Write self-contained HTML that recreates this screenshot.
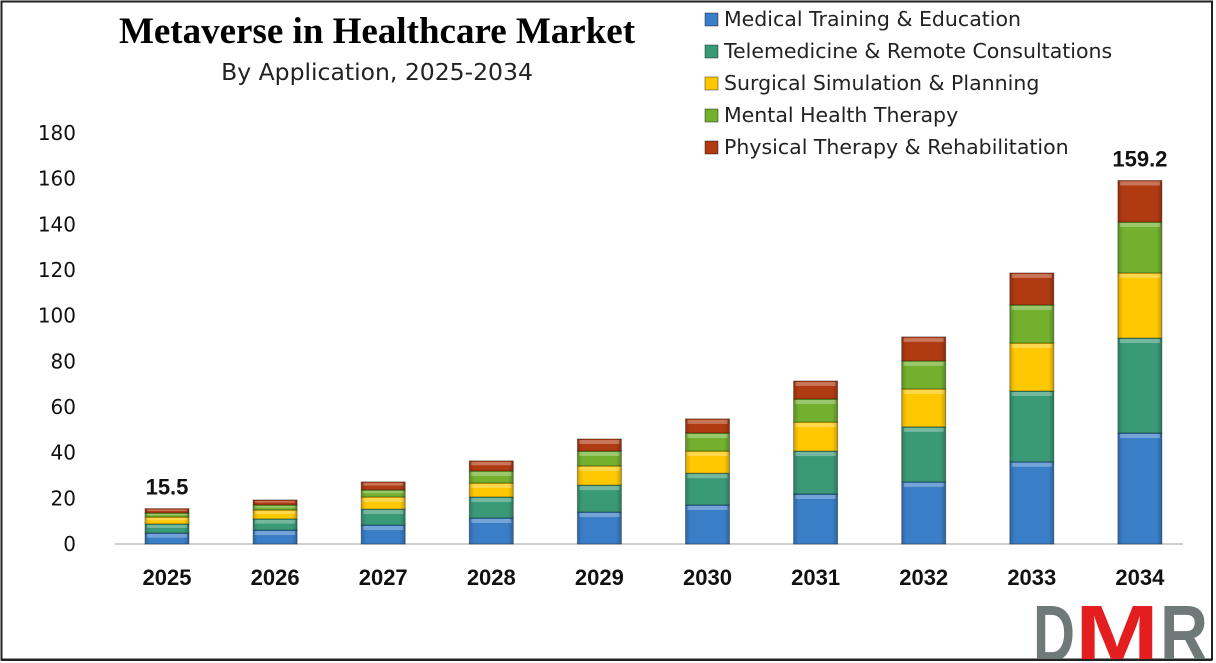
<!DOCTYPE html>
<html><head><meta charset="utf-8"><style>
html,body{margin:0;padding:0;background:#fff;}
svg{display:block;font-family:"DejaVu Sans",sans-serif;}
</style></head><body>
<svg id="chart" width="1216" height="663" viewBox="0 0 1216 663">
<defs>
<linearGradient id="shade" x1="0" x2="1" y1="0" y2="0">
<stop offset="0" stop-color="#000" stop-opacity="0.18"/>
<stop offset="0.12" stop-color="#000" stop-opacity="0"/>
<stop offset="0.88" stop-color="#000" stop-opacity="0"/>
<stop offset="1" stop-color="#000" stop-opacity="0.22"/>
</linearGradient>
</defs>
<rect x="1.5" y="1.5" width="1211" height="658" fill="#fff" stroke="#222" stroke-width="2"/>
<text x="377" y="43" text-anchor="middle" font-family="Liberation Serif,serif" font-weight="bold" font-size="37" fill="#000">Metaverse in Healthcare Market</text>
<text x="377" y="80" text-anchor="middle" font-size="23.5" fill="#222">By Application, 2025-2034</text>
<line x1="115" y1="544" x2="1183" y2="544" stroke="#d0d0d0" stroke-width="2"/>
<g id="yticks"></g>
<g id="bars"></g>
<g id="xlabels"></g>
<g id="legend"></g>
<g font-family="Liberation Sans,sans-serif" font-weight="bold" font-size="80">
<text x="1033" y="661" textLength="42" lengthAdjust="spacingAndGlyphs" fill="#6f7a78">D</text>
<text x="1075" y="661" textLength="84" lengthAdjust="spacingAndGlyphs" fill="#e41e1e">M</text>
<text x="1160" y="661" textLength="48" lengthAdjust="spacingAndGlyphs" fill="#6f7a78">R</text>
</g>
<rect x="1213" y="0" width="3" height="663" fill="#fff"/>
<rect x="0" y="661" width="1216" height="2" fill="#fff"/>
<line x1="1212" y1="1" x2="1212" y2="660" stroke="#222" stroke-width="2"/>
<line x1="1" y1="660" x2="1212" y2="660" stroke="#222" stroke-width="2"/>
</svg>
<script>
const years = ["2025","2026","2027","2028","2029","2030","2031","2032","2033","2034"];
const seriesNames = ["Medical Training & Education","Telemedicine & Remote Consultations","Surgical Simulation & Planning","Mental Health Therapy","Physical Therapy & Rehabilitation"];
const medical = [4.8,6.1,8.3,11.4,14.0,17.1,21.9,27.2,36.0,48.6];
const telemedicine = [4.0,4.9,7.0,9.2,11.8,13.9,18.8,24.1,31.0,41.6];
const surgical = [3.0,3.9,5.3,6.1,8.4,9.7,12.7,16.6,21.0,28.5];
const mental = [1.8,2.2,3.1,5.3,6.5,7.9,10.1,12.3,16.7,22.3];
const physical = [1.9,2.2,3.5,4.4,5.3,6.2,7.9,10.5,14.0,18.2];
const totalLabels = {"2025":"15.5","2034":"159.2"};
const yTicks = [0,20,40,60,80,100,120,140,160,180];
const colors = ["#3a7ec8","#3a9a78","#ffc800","#72b02e","#b03a12"];
const ns="http://www.w3.org/2000/svg";
const y0=544, yTop=133, yMax=180;
function yScale(v){return y0-(v/yMax)*(y0-yTop);}
function xScale(i){return 167+i*108.1;}
const barW=44;
function mk(tag,attrs,parent){const e=document.createElementNS(ns,tag);for(const k in attrs)e.setAttribute(k,attrs[k]);parent.appendChild(e);return e;}
const yg=document.getElementById('yticks');
yTicks.forEach(t=>{
  const e=mk('text',{x:76,y:yScale(t)+7,'text-anchor':'end','font-size':20,fill:'#111'},yg);
  
  
  e.textContent=t;
});
const series=[medical,telemedicine,surgical,mental,physical];
const bg=document.getElementById('bars');
years.forEach((yr,i)=>{
  let acc=0;
  const cx=xScale(i);
  series.forEach((s,k)=>{
    const v=s[i];
    const yb=yScale(acc), yt=yScale(acc+v);
    const r=mk('rect',{x:cx-barW/2,y:yt,width:barW,height:yb-yt,fill:colors[k],stroke:'rgba(0,0,0,0.35)','stroke-width':1},bg);
    
    
    const sh=mk('rect',{x:cx-barW/2,y:yt,width:barW,height:yb-yt,fill:'url(#shade)'},bg);
    
    
    const hl=mk('rect',{x:cx-barW/2+2,y:yt+1,width:barW-4,height:Math.min(4,(yb-yt)/3),fill:'#fff',opacity:0.3},bg);
    
    
    acc+=v;
  });
  if(totalLabels[yr]){
    const t=mk('text',{x:cx,y:yScale(acc)-14,'text-anchor':'middle','font-size':22,'font-weight':'bold','font-family':'Liberation Sans,sans-serif',fill:'#111'},bg);
    
    
    t.textContent=totalLabels[yr];
  }
  const xl=mk('text',{x:cx,y:585,'text-anchor':'middle','font-size':22,'font-weight':'bold','font-family':'Liberation Sans,sans-serif',fill:'#111'},document.getElementById('xlabels'));
  
  
  xl.textContent=yr;
});
const lg=document.getElementById('legend');
seriesNames.forEach((n,k)=>{
  const y=19+k*32;
  const g=mk('g',{},lg);
  
  
  mk('rect',{x:705,y:y-6,width:13,height:13,fill:colors[k],stroke:'rgba(0,0,0,0.4)','stroke-width':1},g);
  const t=mk('text',{x:724,y:y+7,'font-size':20.5,fill:'#222'},g);
  t.textContent=n;
});
</script>
</body></html>
